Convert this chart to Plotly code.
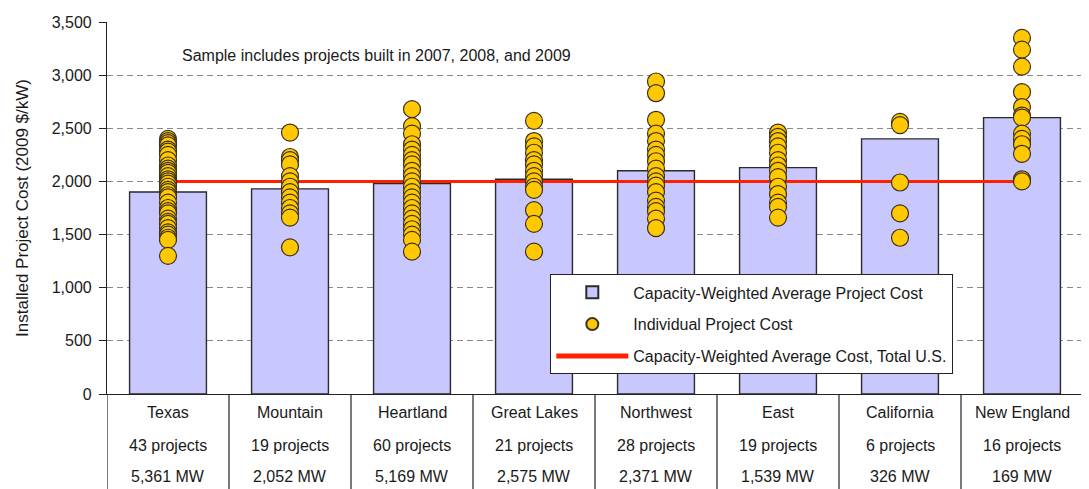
import plotly.graph_objects as go

regions = ["Texas", "Mountain", "Heartland", "Great Lakes", "Northwest", "East", "California", "New England"]
n_projects = [43, 19, 60, 21, 28, 19, 6, 16]
capacity_mw = [5361, 2052, 5169, 2575, 2371, 1539, 326, 169]
avg_cost = [1900, 1930, 1980, 2020, 2100, 2130, 2400, 2600]
us_avg_cost = 2000

texas_costs = [2400, 2380, 2360, 2340, 2300, 2280, 2250, 2200, 2150, 2120, 2100, 2080, 2050, 2020,
               2000, 1980, 1950, 1920, 1900, 1870, 1850, 1800, 1750, 1720, 1700, 1650, 1620, 1600,
               1560, 1520, 1500, 1470, 1450, 1300]
mountain_costs = [2460, 2230, 2200, 2160, 2050, 2000, 1950, 1900, 1850, 1800, 1750, 1700, 1660, 1380]
heartland_costs = [2680, 2520, 2450, 2350, 2300, 2250, 2200, 2160, 2100, 2050, 2000, 1950, 1900,
                   1850, 1800, 1750, 1700, 1650, 1600, 1550, 1500, 1450, 1340]
greatlakes_costs = [2570, 2380, 2330, 2270, 2200, 2160, 2100, 2050, 2000, 1950, 1920, 1730, 1600, 1340]
northwest_costs = [2940, 2830, 2580, 2450, 2380, 2300, 2250, 2190, 2120, 2050, 2000, 1960, 1900,
                   1820, 1760, 1720, 1650, 1560]
east_costs = [2460, 2420, 2380, 2330, 2270, 2200, 2150, 2100, 2040, 1950, 1880, 1800, 1760, 1660]
california_costs = [2560, 2530, 1990, 1700, 1470]
newengland_costs = [3350, 3240, 3080, 2840, 2700, 2620, 2600, 2450, 2400, 2350, 2260, 2020, 2000]

all_costs = [texas_costs, mountain_costs, heartland_costs, greatlakes_costs,
             northwest_costs, east_costs, california_costs, newengland_costs]

y_ticks = [0, 500, 1000, 1500, 2000, 2500, 3000, 3500]
note_text = "Sample includes projects built in 2007, 2008, and 2009"

FONT = "Liberation Sans, Arial, sans-serif"
TXT = "#1a1a1a"
FS = 17

xpos = list(range(len(regions)))

fig = go.Figure()
fig.add_trace(go.Bar(
    x=xpos, y=avg_cost, width=0.63,
    marker=dict(color="#C8C8FF", line=dict(color="#2a2a2a", width=1.4)),
    name="Capacity-Weighted Average Project Cost", legendgroup="a", legendrank=1,
))
fig.add_trace(go.Scatter(
    x=xpos, y=[us_avg_cost] * len(regions), mode="lines",
    line=dict(color="#FF2000", width=3),
    name="Capacity-Weighted Average Cost, Total U.S.", legendgroup="c", legendrank=3,
))
dx, dy = [], []
for i, vals in enumerate(all_costs):
    dx += [i] * len(vals)
    dy += vals
fig.add_trace(go.Scatter(
    x=dx, y=dy, mode="markers",
    marker=dict(size=17, color="#FFC800", line=dict(color="#3a3020", width=1.2)),
    name="Individual Project Cost", legendgroup="b", legendrank=2,
))

# table below axis
row_y = [-19 / 376, -52 / 376, -83 / 376]
for i, r in enumerate(regions):
    texts = [r, f"{n_projects[i]} projects", f"{capacity_mw[i]:,} MW"]
    for t, yy in zip(texts, row_y):
        fig.add_annotation(x=i, y=yy, xref="x", yref="paper", text=t, showarrow=False,
                           font=dict(family=FONT, size=FS - 1, color=TXT), yanchor="middle")
for k in range(len(regions) + 1):
    fig.add_shape(type="line", xref="x", yref="paper", x0=k - 0.5, x1=k - 0.5, y0=0, y1=-0.26,
                  line=dict(color="#222222", width=1.2))

fig.add_annotation(x=0.075, y=0.91, xref="paper", yref="paper", xanchor="left", yanchor="middle",
                   text=note_text, showarrow=False, font=dict(family=FONT, size=FS - 1, color=TXT))

fig.update_layout(
    width=1081, height=481,
    margin=dict(l=99, r=6, t=10, b=95),
    paper_bgcolor="white", plot_bgcolor="white",
    font=dict(family=FONT, size=FS, color=TXT),
    showlegend=True,
    legend=dict(x=0.454, y=0.322, xanchor="left", yanchor="top",
                bgcolor="white", bordercolor="#222222", borderwidth=1.2,
                font=dict(family=FONT, size=FS - 1, color=TXT),
                tracegroupgap=8, traceorder="grouped", itemwidth=72, itemsizing="constant"),
    xaxis=dict(range=[-0.5, 7.5], showticklabels=False, showgrid=False, zeroline=False,
               showline=True, linecolor="#222222", linewidth=1.2, ticks=""),
    yaxis=dict(range=[0, 3500], tickvals=y_ticks, tickformat=",", showgrid=True,
               gridcolor="#8a8a8a", griddash="6px,4px", gridwidth=1, zeroline=False,
               showline=True, linecolor="#222222", linewidth=1.2,
               ticks="outside", ticklen=7, tickcolor="#222222", ticklabelstandoff=4,
               tickfont=dict(family=FONT, size=FS - 1, color=TXT),
               title=dict(text="Installed Project Cost (2009 $/kW)", standoff=18,
                          font=dict(family=FONT, size=FS, color=TXT))),
    bargap=0.37,
)
fig.write_html("out.html")
